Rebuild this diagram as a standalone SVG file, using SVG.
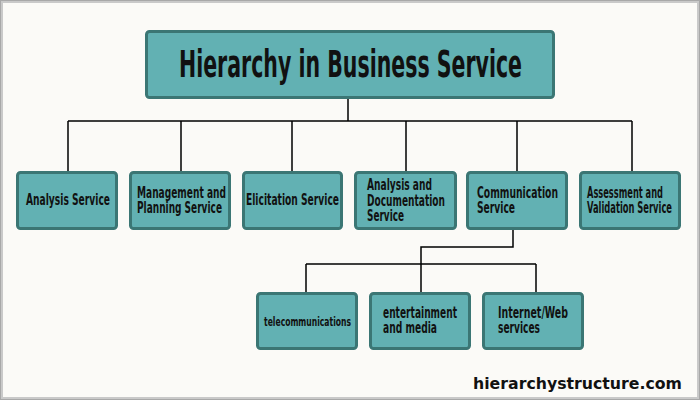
<svg xmlns="http://www.w3.org/2000/svg" width="700" height="400" viewBox="0 0 700 400">
<style>
.box{fill:#62b1b3;stroke:#3b7674;stroke-width:3}
.lbl{font-family:"Liberation Sans Narrow","DejaVu Sans Condensed","Roboto Condensed","Liberation Sans",sans-serif;font-weight:bold;font-size:15px;fill:#111}
.sm{font-size:13px}
.title{font-size:37px}
.conn{fill:none;stroke:#000;stroke-width:1.5}
.foot{font-family:"DejaVu Sans",Verdana,sans-serif;font-weight:bold;font-size:15px;fill:#111}
</style>
<rect x="0" y="0" width="700" height="400" fill="#fbfaf7"/>
<rect x="1.5" y="1.5" width="697" height="397" fill="none" stroke="#c9c9c9" stroke-width="3"/>
<rect x="0.5" y="0.5" width="699" height="399" fill="none" stroke="#a8a8a8" stroke-width="1"/>
<g id="connectors">
<path class="conn" d="M348 99V121M68 121H632M68 121V172M181 121V172M292 121V172M406 121V172M517 121V172M632 121V172"/>
<path class="conn" d="M513 229V247H421V292M306 264H536M306 264V292M536 264V292"/>
</g>
<g id="title">
<rect class="box" x="146.5" y="31.5" width="407" height="66" rx="3"/>
<text class="lbl title" x="179" y="77" textLength="343" lengthAdjust="spacingAndGlyphs">Hierarchy in Business Service</text>
</g>
<g id="analysis">
<rect class="box" x="17.5" y="172.5" width="99" height="56" rx="3"/>
<text class="lbl" x="26" y="205" textLength="84" lengthAdjust="spacingAndGlyphs">Analysis Service</text>
</g>
<g id="management">
<rect class="box" x="130.5" y="172.5" width="99" height="56" rx="3"/>
<text class="lbl" x="137" y="198" textLength="89" lengthAdjust="spacingAndGlyphs">Management and</text>
<text class="lbl" x="137" y="213" textLength="85" lengthAdjust="spacingAndGlyphs">Planning Service</text>
</g>
<g id="elicitation">
<rect class="box" x="243.5" y="172.5" width="98" height="56" rx="3"/>
<text class="lbl" x="246" y="205" textLength="93" lengthAdjust="spacingAndGlyphs">Elicitation Service</text>
</g>
<g id="analysis-doc">
<rect class="box" x="355.5" y="172.5" width="100" height="56" rx="3"/>
<text class="lbl" x="367" y="190" textLength="65" lengthAdjust="spacingAndGlyphs">Analysis and</text>
<text class="lbl" x="367" y="205.5" textLength="78" lengthAdjust="spacingAndGlyphs">Documentation</text>
<text class="lbl" x="367" y="221" textLength="37" lengthAdjust="spacingAndGlyphs">Service</text>
</g>
<g id="communication">
<rect class="box" x="467.5" y="172.5" width="99" height="56" rx="3"/>
<text class="lbl" x="477" y="198" textLength="81" lengthAdjust="spacingAndGlyphs">Communication</text>
<text class="lbl" x="477" y="213" textLength="38" lengthAdjust="spacingAndGlyphs">Service</text>
</g>
<g id="assessment">
<rect class="box" x="580.5" y="172.5" width="99" height="56" rx="3"/>
<text class="lbl" x="587" y="198" textLength="76" lengthAdjust="spacingAndGlyphs">Assessment and</text>
<text class="lbl" x="587" y="213" textLength="85" lengthAdjust="spacingAndGlyphs">Validation Service</text>
</g>
<g id="telecom">
<rect class="box" x="257.5" y="293.5" width="99" height="55" rx="3"/>
<text class="lbl sm" x="264" y="326" textLength="87" lengthAdjust="spacingAndGlyphs">telecommunications</text>
</g>
<g id="entertainment">
<rect class="box" x="370.5" y="293.5" width="99" height="55" rx="3"/>
<text class="lbl" x="383" y="318" textLength="74" lengthAdjust="spacingAndGlyphs">entertainment</text>
<text class="lbl" x="383" y="333" textLength="54" lengthAdjust="spacingAndGlyphs">and media</text>
</g>
<g id="internet">
<rect class="box" x="483.5" y="293.5" width="99" height="55" rx="3"/>
<text class="lbl" x="498" y="318" textLength="70" lengthAdjust="spacingAndGlyphs">Internet/Web</text>
<text class="lbl" x="498" y="333" textLength="42" lengthAdjust="spacingAndGlyphs">services</text>
</g>
<text class="foot" x="473" y="389" textLength="209" lengthAdjust="spacingAndGlyphs">hierarchystructure.com</text>
</svg>
